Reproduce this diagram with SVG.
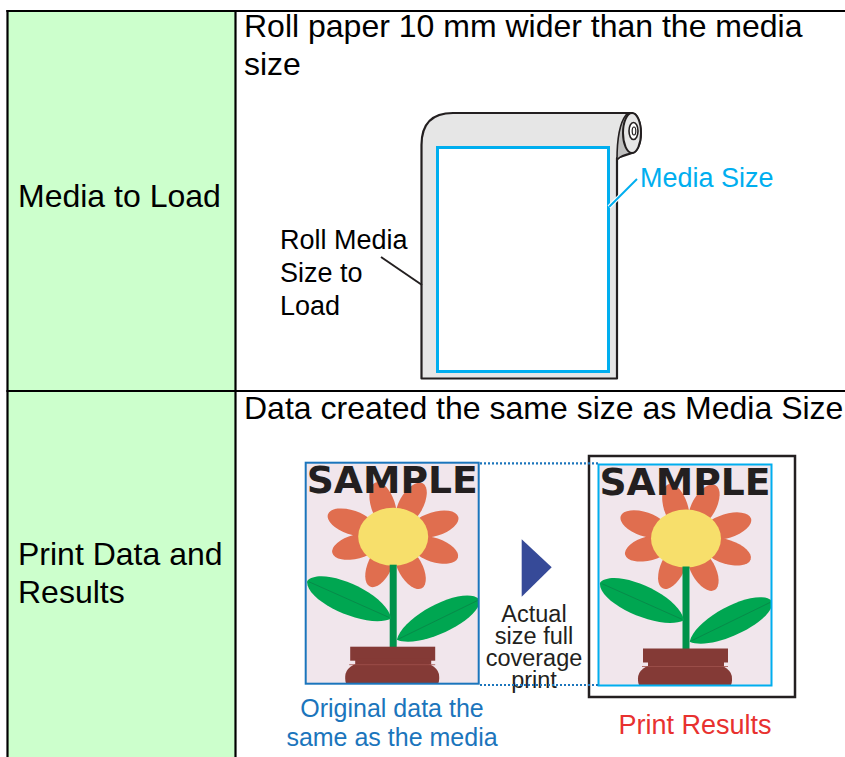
<svg xmlns="http://www.w3.org/2000/svg" xmlns:xlink="http://www.w3.org/1999/xlink" width="845" height="757" viewBox="0 0 845 757">
  <style>
    .txt { font-family: "Liberation Sans", Arial, sans-serif; fill: #000; }
    .head { font-size: 32px; }
    .lbl { font-size: 27px; }
    .small { font-size: 23.5px; fill: #231F20; }
    .grid { stroke: #000; stroke-width: 2.2; fill: none; }
    .petal { fill: #E06E4F; }
    .leaf { fill: #00A651; }
    .rib { stroke: #0B7A45; stroke-width: 0.8; fill: none; opacity: 0.7; }
    .pot { fill: #843A36; }
    .dots { stroke: #1B75BC; stroke-width: 2.2; stroke-dasharray: 2 2; fill: none; }
  </style>
  <defs>
    <clipPath id="frameClip">
      <rect x="0" y="0" width="173" height="221"/>
    </clipPath>
    <!-- sample artwork: pink page, flower in a pot, SAMPLE heading on top -->
    <g id="sampleArt">
      <g clip-path="url(#frameClip)">
        <rect x="0" y="0" width="173" height="221" fill="#F1E6EC"/>
        <g transform="translate(87.5,74)">
          <!-- petals -->
          <g class="petal">
            <ellipse transform="rotate(-108) translate(33,0)" cx="0" cy="0" rx="24" ry="12"/>
            <ellipse transform="rotate(-61) translate(37,0)" cx="0" cy="0" rx="24" ry="12"/>
            <ellipse transform="rotate(-17) translate(43,0)" cx="0" cy="0" rx="25" ry="12"/>
            <ellipse transform="rotate(18) translate(43,0)" cx="0" cy="0" rx="25" ry="12"/>
            <ellipse transform="rotate(61) translate(35,0)" cx="0" cy="0" rx="24" ry="12"/>
            <ellipse transform="rotate(115) translate(31,0)" cx="0" cy="0" rx="24" ry="12"/>
            <ellipse transform="rotate(165) translate(38,0)" cx="0" cy="0" rx="25" ry="12"/>
            <ellipse transform="rotate(-161) translate(44,0)" cx="0" cy="0" rx="25" ry="12"/>
          </g>
          <ellipse cx="0" cy="0" rx="35" ry="29" fill="#F7DF6B"/>
          <!-- stem -->
          <rect x="-3.5" y="28" width="7" height="84" fill="#00924A"/>
          <!-- leaves -->
          <g transform="translate(-44,63) rotate(24)">
            <path class="leaf" d="M-46,0 C-40,-20 30,-22 46,0 C30,20 -40,20 -46,0 Z"/>
            <line class="rib" x1="-44" y1="0" x2="44" y2="0"/>
          </g>
          <g transform="translate(45,83) rotate(-26)">
            <path class="leaf" d="M-46,0 C-30,-20 40,-20 46,0 C40,19 -30,19 -46,0 Z"/>
            <line class="rib" x1="-44" y1="0" x2="44" y2="0"/>
          </g>
          <!-- pot -->
          <rect class="pot" x="-43" y="110" width="85" height="14"/>
          <rect class="pot" x="-38" y="122" width="76" height="6"/>
          <rect class="pot" x="-48" y="126" width="94" height="30" rx="18" ry="14"/>
          <line x1="-44" y1="128" x2="42" y2="128" stroke="#A0524C" stroke-width="0.8"/>
        </g>
        <text x="1" y="30.5" textLength="171" lengthAdjust="spacingAndGlyphs" font-family="'DejaVu Sans', sans-serif" font-weight="bold" font-size="37" fill="#231F20">SAMPLE</text>
      </g>
    </g>
  </defs>

  <!-- background -->
  <rect x="0" y="0" width="845" height="757" fill="#fff"/>

  <!-- left column cells -->
  <g id="cell-media-label">
    <rect x="7.5" y="11" width="228" height="380" fill="#CCFFCC"/>
    <text class="txt head" x="18" y="207">Media to Load</text>
  </g>
  <g id="cell-print-label">
    <rect x="7.5" y="391" width="228" height="366" fill="#CCFFCC"/>
    <text class="txt head" x="18" y="565">Print Data and</text>
    <text class="txt head" x="18" y="603">Results</text>
  </g>

  <!-- table rules -->
  <g id="table-grid" class="grid">
    <line x1="6.4" y1="11" x2="845" y2="11"/>
    <line x1="7.5" y1="10" x2="7.5" y2="757"/>
    <line x1="235.5" y1="10" x2="235.5" y2="757"/>
    <line x1="6.4" y1="391" x2="845" y2="391"/>
  </g>

  <!-- upper right cell: roll media -->
  <g id="cell-media-content">
    <text class="txt head" x="244" y="37">Roll paper 10 mm wider than the media</text>
    <text class="txt head" x="244" y="75">size</text>

    <g id="roll-paper">
      <!-- hanging sheet -->
      <path d="M421.5,378.5 V145 Q421.5,113 453,113 H632 V153 L617,158 V378.5 Z" fill="#E6E6E6" stroke="#231F20" stroke-width="2.2" stroke-linejoin="round"/>
      <!-- inner curl of the roll -->
      <path d="M617,160 C617,140 619,124 626,115 L632,113 A9,20 0 0 1 632,153 C626,154 620,156 617,160 Z" fill="#BFBFBF" stroke="#231F20" stroke-width="1.6"/>
      <!-- roll end -->
      <ellipse cx="632" cy="133" rx="9" ry="20" fill="#E6E6E6" stroke="#231F20" stroke-width="2"/>
      <ellipse cx="633.5" cy="131" rx="4.5" ry="8.5" fill="#fff" stroke="#231F20" stroke-width="1.6"/>
      <ellipse cx="634" cy="131" rx="1.8" ry="4" fill="none" stroke="#231F20" stroke-width="1.2"/>
      <!-- printable media area -->
      <rect x="437.5" y="147.5" width="171" height="224" fill="#fff" stroke="#00AEEF" stroke-width="3"/>
    </g>

    <text class="txt lbl" x="640" y="187" style="fill:#00AEEF">Media Size</text>
    <text class="txt lbl" x="280" y="249">Roll Media</text>
    <text class="txt lbl" x="280" y="282">Size to</text>
    <text class="txt lbl" x="280" y="315">Load</text>
  </g>

  <!-- lower right cell: print data and results -->
  <g id="cell-print-content">
    <text class="txt head" x="244" y="419">Data created the same size as Media Size</text>

    <g id="original-data">
      <use xlink:href="#sampleArt" transform="translate(305.7,462.7)"/>
      <rect x="305.7" y="462.7" width="173" height="221" fill="none" stroke="#1B75BC" stroke-width="2"/>
      <text class="txt" x="392" y="717" text-anchor="middle" font-size="25" style="fill:#1B75BC">Original data the</text>
      <text class="txt" x="392" y="746" text-anchor="middle" font-size="25" style="fill:#1B75BC">same as the media</text>
    </g>

    <g id="print-results">
      <rect x="589" y="456" width="206" height="241" fill="#fff" stroke="#231F20" stroke-width="2.5"/>
      <use xlink:href="#sampleArt" transform="translate(598.5,464.5)"/>
      <rect x="598.5" y="464.5" width="173" height="221" fill="none" stroke="#00AEEF" stroke-width="2"/>
      <text class="txt" x="695" y="734" text-anchor="middle" font-size="27" style="fill:#E8312F">Print Results</text>
    </g>

    <g id="print-step">
      <polygon points="521.7,539.3 521.7,596.7 551.7,567.3" fill="#364A98"/>
      <text class="txt small" x="534" y="622" text-anchor="middle">Actual</text>
      <text class="txt small" x="534" y="644" text-anchor="middle">size full</text>
      <text class="txt small" x="534" y="666" text-anchor="middle">coverage</text>
      <text class="txt small" x="534" y="688" text-anchor="middle">print</text>
    </g>
  </g>

  <!-- connectors: leader lines and size guides -->
  <g id="connectors">
    <line x1="609" y1="207" x2="637" y2="179" stroke="#fff" stroke-width="4"/>
    <line x1="609" y1="207" x2="637" y2="179" stroke="#00AEEF" stroke-width="2"/>
    <line x1="381" y1="257" x2="422" y2="285" stroke="#231F20" stroke-width="2"/>
    <line class="dots" x1="480" y1="463.3" x2="598" y2="463.3"/>
    <line class="dots" x1="480" y1="685" x2="598" y2="685"/>
  </g>
</svg>
